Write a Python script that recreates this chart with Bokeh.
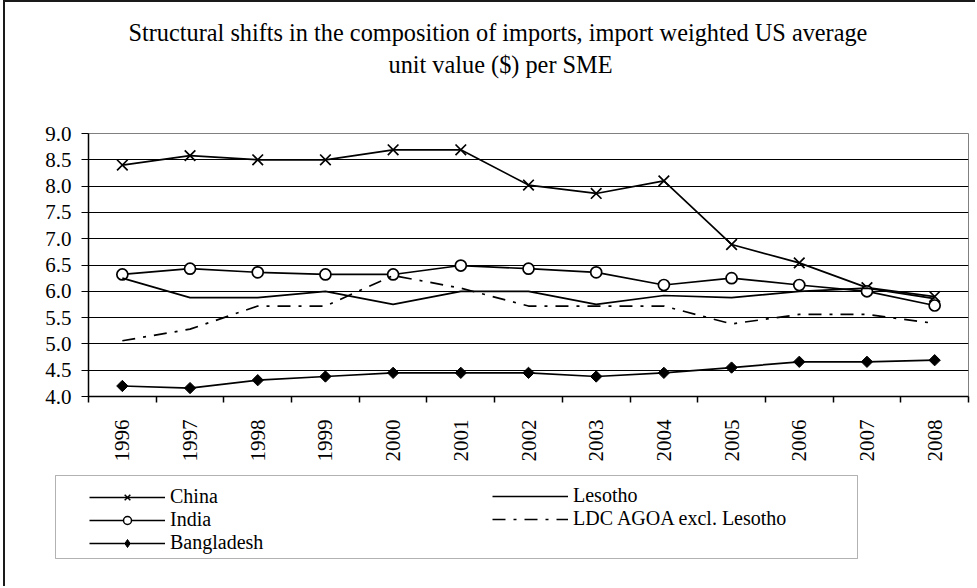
import math
from bokeh.plotting import figure
from bokeh.layouts import column
from bokeh.models import (Range1d, LinearAxis, FixedTicker, PrintfTickFormatter, Legend,
                          LegendItem, Title, BoxAnnotation)
from bokeh.embed import file_html
from bokeh.resources import INLINE

years = [1996, 1997, 1998, 1999, 2000, 2001, 2002, 2003, 2004, 2005, 2006, 2007, 2008]
china = [8.40, 8.58, 8.50, 8.50, 8.69, 8.69, 8.02, 7.86, 8.10, 6.89, 6.54, 6.07, 5.90]
india = [6.32, 6.43, 6.36, 6.32, 6.32, 6.49, 6.43, 6.36, 6.12, 6.25, 6.12, 6.00, 5.73]
lesotho = [6.25, 5.88, 5.88, 6.00, 5.75, 6.00, 6.00, 5.75, 5.92, 5.88, 6.00, 6.06, 5.86]
ldc_agoa = [5.06, 5.28, 5.72, 5.72, 6.30, 6.06, 5.72, 5.72, 5.72, 5.38, 5.56, 5.56, 5.39]
bangladesh = [4.20, 4.16, 4.31, 4.38, 4.45, 4.45, 4.45, 4.38, 4.45, 4.55, 4.66, 4.66, 4.69]
y_ticks = [4.0, 4.5, 5.0, 5.5, 6.0, 6.5, 7.0, 7.5, 8.0, 8.5, 9.0]
title_line1 = "Structural shifts in the composition of imports, import weighted US average"
title_line2 = "unit value ($)  per SME"

FONT = "Liberation Serif"
BORDER = "2px solid #1a1a1a"
NAN = [float("nan")]

p = figure(width=972, height=462,
           x_range=Range1d(years[0] - 0.5, years[-1] + 0.5),
           y_range=Range1d(y_ticks[0], y_ticks[-1]),
           output_backend="svg", toolbar_location=None,
           x_axis_location=None,
           min_border_left=83, min_border_right=9,
           min_border_top=131, min_border_bottom=64)
p.frame_align = False
p.styles = {"margin-left": "3px", "border-left": BORDER, "border-top": BORDER}
p.outline_line_color = "#808080"
p.outline_line_width = 1
p.background_fill_color = "white"
p.border_fill_color = "white"
p.xgrid.visible = False

# y axis
p.yaxis.ticker = FixedTicker(ticks=y_ticks)
p.yaxis.formatter = PrintfTickFormatter(format="%.1f")
p.yaxis.major_label_text_font = FONT
p.yaxis.major_label_text_font_size = "21px"
p.yaxis.major_label_text_color = "black"
p.yaxis.major_tick_out = 7
p.yaxis.major_tick_in = 0
p.yaxis.minor_tick_out = 0
p.yaxis.minor_tick_in = 0
p.yaxis.major_label_standoff = 10
p.yaxis.axis_line_width = 1.5
p.yaxis.axis_line_color = "black"
p.yaxis.major_tick_line_color = "black"
p.ygrid.ticker = FixedTicker(ticks=y_ticks)
p.ygrid.grid_line_color = "black"
p.ygrid.grid_line_width = 1

# x axis: year labels, tick marks on the boundaries between years
edges = [y - 0.5 for y in years] + [years[-1] + 0.5]
year_axis = LinearAxis(ticker=FixedTicker(ticks=years, minor_ticks=edges),
                       formatter=PrintfTickFormatter(format="%d"),
                       axis_line_width=1.5, axis_line_color="black",
                       major_tick_line_color=None, major_tick_out=0, major_tick_in=0,
                       minor_tick_line_color="black", minor_tick_line_width=1.5,
                       minor_tick_out=6, minor_tick_in=0,
                       major_label_orientation=math.pi / 2,
                       major_label_text_font=FONT,
                       major_label_text_font_size="21px",
                       major_label_text_color="black",
                       major_label_standoff=17)
p.add_layout(year_axis, "below")

# titles (stacked upward from the frame: spacer, line 2, line 1)
spacer = Title(text=" ", text_font_size="2px", standoff=50)
t2 = Title(text=title_line2, align="left", offset=300, text_font=FONT,
           text_font_size="24.3px", text_font_style="normal", text_color="black",
           standoff=4)
t1 = Title(text=title_line1, align="left", offset=40, text_font=FONT,
           text_font_size="24.3px", text_font_style="normal", text_color="black",
           standoff=2)
p.add_layout(spacer, "above")
p.add_layout(t2, "above")
p.add_layout(t1, "above")

# series
lw = 1.7
r_china = p.line(years, china, line_color="black", line_width=lw)
s_china = p.scatter(years, china, marker="x", size=15, line_color="black", line_width=lw)
r_india = p.line(years, india, line_color="black", line_width=lw)
s_india = p.scatter(years, india, marker="circle", size=11, line_color="black",
                    fill_color="white", line_width=lw)
r_les = p.line(years, lesotho, line_color="black", line_width=lw)
r_ldc = p.line(years, ldc_agoa, line_color="black", line_width=lw, line_dash="13 8 3 8")
r_ban = p.line(years, bangladesh, line_color="black", line_width=lw)
s_ban = p.scatter(years, bangladesh, marker="square", angle=math.pi / 4, size=8,
                  line_color="black", fill_color="black")

# legend area (second canvas directly below the chart; pixel-mapped ranges)
q = figure(width=972, height=124, x_range=Range1d(0, 972), y_range=Range1d(124, 0),
           output_backend="svg", toolbar_location=None,
           x_axis_location=None, y_axis_location=None,
           min_border_left=0, min_border_right=0, min_border_top=0, min_border_bottom=0)
q.frame_align = False
q.styles = {"margin-left": "3px", "border-left": BORDER}
q.outline_line_color = None
q.xgrid.visible = False
q.ygrid.visible = False
q.background_fill_color = "white"
q.border_fill_color = "white"

# legend frame
q.add_layout(BoxAnnotation(left=50, right=852, top=13, bottom=96,
                           fill_color=None, fill_alpha=0,
                           line_color="black", line_width=1))

# legend keys (renderers without visible data, styled like the chart series)
lg_china = q.line(NAN, NAN, line_color="black", line_width=1.5)
lg_china_m = q.scatter(NAN, NAN, marker="x", size=10, line_color="black", line_width=1.5)
lg_india = q.line(NAN, NAN, line_color="black", line_width=1.5)
lg_india_m = q.scatter(NAN, NAN, marker="circle", size=7, line_color="black",
                       fill_color="white", line_width=1.5)
lg_ban = q.line(NAN, NAN, line_color="black", line_width=1.5)
lg_ban_m = q.scatter(NAN, NAN, marker="diamond", size=13,
                     line_color="black", fill_color="black")
lg_les = q.line(NAN, NAN, line_color="black", line_width=1.5)
lg_ldc = q.line(NAN, NAN, line_color="black", line_width=1.5, line_dash="13 8 3 8")

leg_style = dict(label_text_font=FONT, label_text_font_size="20px",
                 label_text_color="black", margin=0,
                 border_line_color=None, background_fill_alpha=0,
                 padding=6, spacing=0, glyph_width=76, glyph_height=20,
                 label_standoff=5, label_height=20)
leg1 = Legend(items=[LegendItem(label="China", renderers=[lg_china, lg_china_m]),
                     LegendItem(label="India", renderers=[lg_india, lg_india_m]),
                     LegendItem(label="Bangladesh", renderers=[lg_ban, lg_ban_m])],
              location=(84, 32), **leg_style)
leg2 = Legend(items=[LegendItem(label="Lesotho", renderers=[lg_les]),
                     LegendItem(label="LDC AGOA excl. Lesotho", renderers=[lg_ldc])],
              location=(487, 56), **leg_style)
q.add_layout(leg1)
q.add_layout(leg2)

layout = column(p, q, spacing=0)
open("out.html", "w").write(file_html(layout, INLINE))
